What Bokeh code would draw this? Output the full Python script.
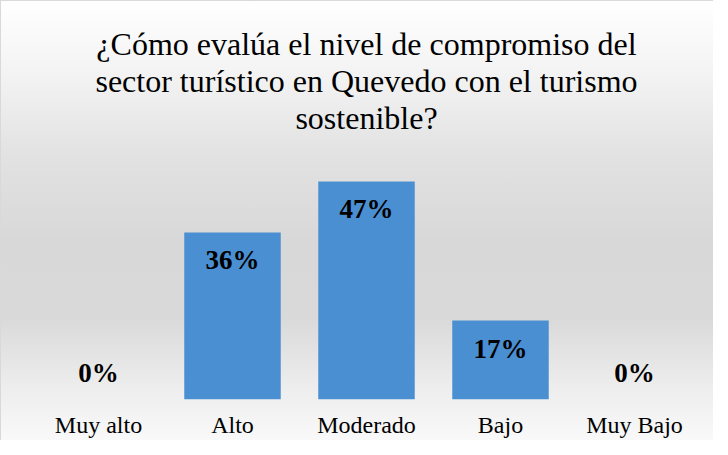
from bokeh.plotting import figure
from bokeh.models import ColumnDataSource, Range1d
from bokeh.layouts import column
from bokeh.core.properties import value
from bokeh.embed import file_html
from bokeh.resources import INLINE

# ---- data ----
categories = ["Muy alto", "Alto", "Moderado", "Bajo", "Muy Bajo"]
values = [0, 36, 47, 17, 0]
labels = [f"{v}%" for v in values]
title_lines = [
    "¿Cómo evalúa el nivel de compromiso del",
    "sector turístico en Quevedo con el turismo",
    "sostenible?",
]

W, H_TITLE, H_MAIN = 712, 166, 273

# ---- title block (text glyphs) ----
tsrc = ColumnDataSource(dict(
    x=[356] * len(title_lines),
    y=[H_TITLE - (42 + 37 * i) for i in range(len(title_lines))],
    t=title_lines,
))
pt = figure(title=None, width=W, height=H_TITLE,
            x_range=Range1d(0, W), y_range=Range1d(0, H_TITLE),
            output_backend="svg", toolbar_location=None, min_border=0)
pt.axis.visible = False
pt.grid.visible = False
pt.outline_line_color = None
pt.border_fill_color = None
pt.background_fill_color = None
pt.text(x="x", y="y", text="t", source=tsrc,
        text_font=value("Liberation Serif"), text_font_size="32px",
        text_color="#000000", text_align="center", text_baseline="alphabetic")

# ---- bar chart ----
src = ColumnDataSource(dict(
    cat=categories,
    val=values,
    lab=labels,
    off=[28 if v > 0 else -27 for v in values],
))

p = figure(
    title=None,
    x_range=categories, y_range=Range1d(0, 50),
    width=W, height=H_MAIN,
    output_backend="svg", toolbar_location=None,
    min_border_left=30, min_border_right=12,
    min_border_top=0, min_border_bottom=41,
)
p.border_fill_color = None
p.background_fill_color = None
p.outline_line_color = None

p.vbar(x="cat", top="val", width=0.72, source=src,
       fill_color="#4a8fd1", line_color=None)

p.text(x="cat", y="val", text="lab", y_offset="off", source=src,
       text_font=value("Liberation Serif"), text_font_style="bold",
       text_font_size="27px", text_color="#000000",
       text_align="center", text_baseline="middle")

p.yaxis.visible = False
p.xgrid.visible = False
p.ygrid.visible = False
p.xaxis.axis_line_color = None
p.xaxis.major_tick_line_color = None
p.xaxis.minor_tick_line_color = None
p.xaxis.major_label_text_font = "Liberation Serif"
p.xaxis.major_label_text_font_size = "24px"
p.xaxis.major_label_text_color = "#000000"
p.xaxis.major_label_standoff = 6

layout = column(pt, p, spacing=0)
layout.styles = {
    "background": "linear-gradient(to bottom, #ffffff 0%, #f2f2f2 18%, #e2e2e2 35%, #d8d8d8 55%, #d9d9d9 72%, #ececec 87%, #f9f9f9 100%)",
    "border-left": "1px solid #d9d9d9",
    "border-top": "1px solid #d9d9d9",
}

open("out.html", "w").write(file_html(layout, INLINE))
